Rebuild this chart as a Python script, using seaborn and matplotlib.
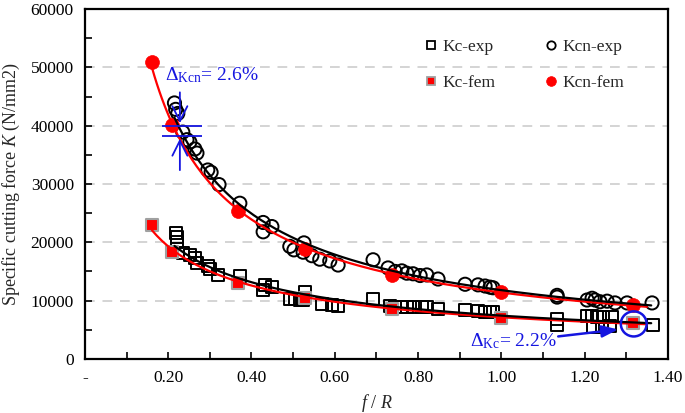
import numpy as np
import pandas as pd
import matplotlib
matplotlib.use("Agg")
import matplotlib.pyplot as plt
import seaborn as sns
from matplotlib.patches import Ellipse
from matplotlib.ticker import MultipleLocator, FixedLocator
from matplotlib.lines import Line2D

# ---------------- data ----------------
kc_fem_x = [0.161, 0.209, 0.367, 0.528, 0.737, 1.000, 1.316]
kc_fem_y = [22900, 18300, 13100, 10500, 8600, 7050, 6200]

kcn_fem_x = [0.161, 0.209, 0.367, 0.528, 0.737, 1.000, 1.316]
kcn_fem_y = [50900, 40100, 25450, 18900, 14400, 11450, 9250]

kcn_exp_x = [0.215, 0.218, 0.223, 0.235, 0.245, 0.252, 0.264, 0.269, 0.295, 0.303,
             0.322, 0.372, 0.428, 0.449, 0.428, 0.492, 0.502, 0.526, 0.524, 0.545,
             0.564, 0.588, 0.608, 0.692, 0.728, 0.745, 0.761, 0.773, 0.788, 0.805,
             0.821, 0.848, 0.913, 0.944, 0.961, 0.973, 0.980, 1.134, 1.134, 1.206,
             1.218, 1.225, 1.237, 1.254, 1.273, 1.302, 1.362]
kcn_exp_y = [43900, 42800, 42100, 38900, 37600, 37200, 36000, 35300, 32400, 32000,
             29900, 26700, 23400, 22700, 21800, 19300, 18700, 19900, 18300, 17700,
             17100, 16800, 16100, 17000, 15600, 15000, 15100, 14700, 14600, 14300,
             14400, 13700, 12800, 12700, 12500, 12300, 12200, 10900, 10600, 10100,
             10400, 10100, 9800, 9900, 9600, 9600, 9600]

kc_exp_x = [0.219, 0.221, 0.221, 0.235, 0.252, 0.264, 0.269, 0.295, 0.300, 0.319,
            0.372, 0.432, 0.427, 0.449, 0.492, 0.504, 0.516, 0.528, 0.524, 0.569,
            0.593, 0.608, 0.692, 0.732, 0.745, 0.761, 0.773, 0.788, 0.809, 0.821,
            0.848, 0.913, 0.944, 0.961, 0.973, 0.980, 1.134, 1.134, 1.206, 1.218,
            1.230, 1.244, 1.265, 1.221, 1.242, 1.260, 1.364]
kc_exp_y = [21600, 20900, 20100, 18200, 17800, 17300, 16500, 15900, 15400, 14400,
            14200, 12700, 11800, 12300, 10300, 10300, 10100, 11500, 10100, 9400,
            9300, 9100, 10300, 9100, 8900, 8900, 8900, 8900, 8900, 8900,
            8600, 8400, 8200, 8100, 8100, 8100, 6900, 5800, 7400, 7400,
            7200, 7200, 7200, 5500, 5500, 5600, 5800]

xtick_vals = [0.0, 0.2, 0.4, 0.6, 0.8, 1.0, 1.2, 1.4]
xtick_labels = ["-", "0.20", "0.40", "0.60", "0.80", "1.00", "1.20", "1.40"]
ytick_vals = [0, 10000, 20000, 30000, 40000, 50000, 60000]

# ---------------- style ----------------
sns.set_theme(style="white")
plt.rcParams["font.family"] = ["Liberation Serif", "DejaVu Serif"]
plt.rcParams["mathtext.fontset"] = "custom"
plt.rcParams["mathtext.rm"] = "Liberation Serif"
plt.rcParams["mathtext.it"] = "Liberation Serif:italic"

fig = plt.figure(figsize=(6.85, 4.13), dpi=100)
ax = fig.add_axes([0.124, 0.131, 0.851, 0.847])

def power_fit(x, y, x0, x1):
    b, a = np.polyfit(np.log(x), np.log(y), 1)
    xs = np.linspace(x0, x1, 200)
    return pd.DataFrame({"x": xs, "y": np.exp(a) * xs ** b})

# grid lines
for yv in ytick_vals[1:-1]:
    ax.axhline(yv, color="#d4d4d4", lw=1.4, ls=(0, (5, 4)), zorder=0)

# experimental points
sns.scatterplot(x=kc_exp_x, y=kc_exp_y, ax=ax, marker="s", s=75,
                facecolor="none", edgecolor="black", linewidth=1.4, zorder=2)
sns.scatterplot(x=kcn_exp_x, y=kcn_exp_y, ax=ax, marker="o", s=90,
                facecolor="none", edgecolor="black", linewidth=1.4, zorder=2)

# fem points
sns.scatterplot(x=kc_fem_x, y=kc_fem_y, ax=ax, marker="s", s=80,
                color="red", edgecolor="#a0a0a0", linewidth=1.5, zorder=3)
sns.scatterplot(x=kcn_fem_x, y=kcn_fem_y, ax=ax, marker="o", s=100,
                color="red", edgecolor="red", linewidth=0.5, zorder=3)

# fitted curves
for xs, ys, x0, x1, col in [
    (kc_fem_x, kc_fem_y, 0.161, 1.35, "red"),
    (kcn_fem_x, kcn_fem_y, 0.161, 1.35, "red"),
    (kc_exp_x, kc_exp_y, 0.215, 1.36, "black"),
    (kcn_exp_x, kcn_exp_y, 0.215, 1.36, "black"),
]:
    df = power_fit(np.array(xs), np.array(ys), x0, x1)
    sns.lineplot(data=df, x="x", y="y", ax=ax, color=col, lw=1.6, zorder=4,
                 legend=False, sort=False)

# legend
handles = [
    Line2D([], [], ls="none", marker="s", ms=6, mfc="none", mec="black", mew=1.3),
    Line2D([], [], ls="none", marker="s", ms=6, mfc="red", mec="#a0a0a0", mew=1.3),
    Line2D([], [], ls="none", marker="o", ms=6, mfc="none", mec="black", mew=1.3),
    Line2D([], [], ls="none", marker="o", ms=7, mfc="red", mec="red", mew=0.5),
]
labels = ["Kc-exp", "Kc-fem", "Kcn-exp", "Kcn-fem"]
ax.legend(handles, labels, ncol=2, loc="upper left", bbox_to_anchor=(0.57, 0.935),
          frameon=False, fontsize=12.5, handlelength=0.8, handletextpad=0.25,
          columnspacing=2.8, labelspacing=1.15, borderaxespad=0)

# annotations
blue = "#1515e0"
ax.text(0.192, 48700, r"$\mathit{Δ}_{\mathrm{Kcn}}$= 2.6%", color=blue,
        fontsize=14, va="center", ha="left")
ax.hlines([39950, 38250], 0.186, 0.282, color=blue, lw=1.3, zorder=5)
ax.annotate("", xy=(0.228, 39950), xytext=(0.228, 46200),
            arrowprops=dict(arrowstyle="->,head_length=0.9,head_width=0.45", color=blue, lw=1.3),
            zorder=5)
ax.annotate("", xy=(0.228, 38250), xytext=(0.228, 31900),
            arrowprops=dict(arrowstyle="->,head_length=0.9,head_width=0.45", color=blue, lw=1.3),
            zorder=5)

ax.text(0.925, 3100, r"$\mathit{Δ}_{\mathrm{Kc}}$= 2.2%", color=blue,
        fontsize=14, va="center", ha="left")
ax.add_patch(Ellipse((1.318, 6000), 0.062, 4300, fill=False, ec=blue, lw=1.8, zorder=5))
ax.annotate("", xy=(1.287, 5100), xytext=(1.13, 3800),
            arrowprops=dict(arrowstyle="-|>,head_length=0.8,head_width=0.3", color=blue, lw=1.8),
            zorder=5)

# axes
ax.set_xlim(0, 1.4)
ax.set_ylim(0, 60000)
ax.xaxis.set_major_locator(FixedLocator(xtick_vals))
ax.set_xticklabels(xtick_labels)
ax.xaxis.set_minor_locator(MultipleLocator(0.1))
ax.yaxis.set_major_locator(FixedLocator(ytick_vals))
ax.set_yticklabels([str(v) for v in ytick_vals])
ax.yaxis.set_minor_locator(MultipleLocator(5000))
ax.tick_params(axis="both", which="both", direction="in", labelsize=12.5,
               colors="black", width=1.2)
ax.tick_params(which="major", length=5, pad=8)
ax.tick_params(which="minor", length=5)
ax.tick_params(axis="x", which="both", top=False, bottom=True)
ax.tick_params(axis="y", which="both", right=False, left=True)
for sp in ax.spines.values():
    sp.set_visible(True)
    sp.set_color("black")
    sp.set_linewidth(1.6)

ax.set_xlabel(r"$\mathit{f}$ / $\mathit{R}$", fontsize=13, labelpad=4)
ax.set_ylabel(r"Specific cutting force $\mathit{K}$ (N/mm2)", fontsize=13, labelpad=6)

fig.savefig("out.png", dpi=100)
